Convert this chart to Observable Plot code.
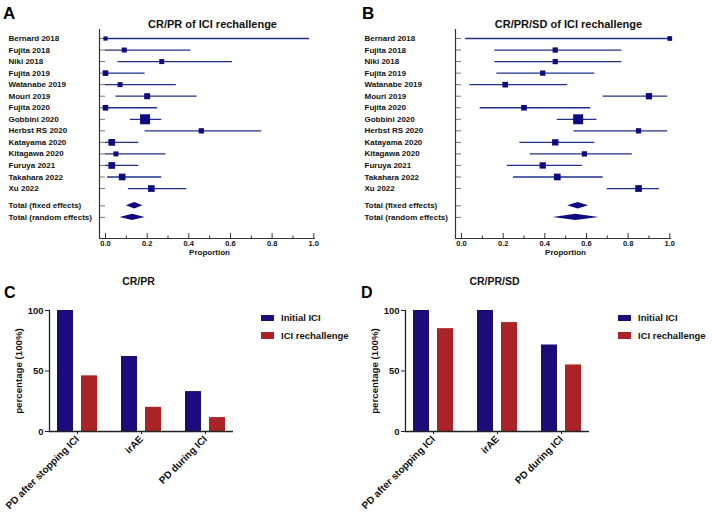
<!DOCTYPE html>
<html>
<head>
<meta charset="utf-8">
<script src="https://cdn.jsdelivr.net/npm/d3@7"></script>
<script src="https://cdn.jsdelivr.net/npm/@observablehq/plot@0.6"></script>
<style>
  body { margin: 0; background: #fff; }
  #root { position: relative; width: 712px; height: 519px; overflow: hidden; background: #fff;
          font-family: "Liberation Sans", Arial, sans-serif; color: #111; }
  .panel { position: absolute; }
  .panel svg { overflow: visible; }
  .letter { position: absolute; font-weight: bold; line-height: 1; color: #000; }
  .legend { position: absolute; font-weight: bold; font-size: 9.5px; color: #111; }
  .legend .row { display: flex; align-items: center; height: 17.5px; }
  .legend .sw { width: 13px; height: 6.5px; margin-right: 7px; }
</style>
</head>
<body>
<div id="root"></div>
<script>
// ---------------- Data ----------------
const studies = ["Bernard 2018", "Fujita 2018", "Niki 2018", "Fujita 2019", "Watanabe 2019",
  "Mouri 2019", "Fujita 2020", "Gobbini 2020", "Herbst RS 2020", "Katayama 2020",
  "Kitagawa 2020", "Furuya 2021", "Takahara 2022", "Xu 2022"];
const totals = ["Total (fixed effects)", "Total (random effects)"];

// Panel A: CR/PR of ICI rechallenge (proportion, 95% CI, relative weight)
const propA = [0.00, 0.09, 0.27, 0.00, 0.07, 0.20, 0.00, 0.19, 0.46, 0.03, 0.05, 0.03, 0.08, 0.22];
const lowA  = [0.00, 0.00, 0.06, 0.00, 0.00, 0.05, 0.00, 0.12, 0.19, 0.00, 0.00, 0.00, 0.01, 0.11];
const highA = [0.98, 0.41, 0.61, 0.19, 0.34, 0.44, 0.25, 0.27, 0.75, 0.16, 0.29, 0.16, 0.27, 0.39];
const weightA = [18, 25, 25, 32, 25, 36, 32, 100, 28, 45, 25, 45, 45, 45];
const totEstA = [0.14, 0.13];
const totLowA = [0.10, 0.07];
const totHighA = [0.18, 0.19];

// Panel B: CR/PR/SD of ICI rechallenge
const propB = [1.00, 0.45, 0.45, 0.39, 0.21, 0.90, 0.30, 0.56, 0.85, 0.45, 0.59, 0.39, 0.46, 0.85];
const lowB  = [0.02, 0.16, 0.16, 0.17, 0.04, 0.68, 0.09, 0.46, 0.54, 0.28, 0.33, 0.22, 0.25, 0.70];
const highB = [1.00, 0.77, 0.77, 0.64, 0.51, 0.99, 0.62, 0.65, 0.99, 0.64, 0.82, 0.58, 0.68, 0.95];
const weightB = [22, 28, 28, 28, 32, 40, 32, 100, 28, 40, 28, 40, 45, 45];
const totEstB = [0.56, 0.55];
const totLowB = [0.51, 0.44];
const totHighB = [0.61, 0.66];

const xMajor = [0, 0.2, 0.4, 0.6, 0.8, 1.0];
const xMinor = [0.1, 0.3, 0.5, 0.7, 0.9];

// Panels C & D: percentage (100%)
const groups = ["PD after stopping ICI", "irAE", "PD during ICI"];
const seriesNames = ["Initial ICI", "ICI rechallenge"];
const initialC = [100, 62, 33];
const rechalC  = [46, 20, 11.5];
const initialD = [100, 100, 71.5];
const rechalD  = [85, 90, 55];
const yTicks = [0, 50, 100];

// ---------------- Styles ----------------
const FONT = "Liberation Sans, Arial, sans-serif";
const NAVY = "#0e0b80";
const LINE = "#20308c";
const BLUE = "#1b0c7a";
const RED = "#a92327";

const root = document.getElementById("root");

function place(el, left, top) {
  const d = document.createElement("div");
  d.className = "panel";
  d.style.left = left + "px";
  d.style.top = top + "px";
  d.appendChild(el);
  root.appendChild(d);
}

function letter(txt, left, top, size) {
  const d = document.createElement("div");
  d.className = "letter";
  d.textContent = txt;
  d.style.left = left + "px";
  d.style.top = top + "px";
  d.style.fontSize = size + "px";
  root.appendChild(d);
}

function legend(left, top) {
  const d = document.createElement("div");
  d.className = "legend";
  d.style.left = left + "px";
  d.style.top = top + "px";
  [[seriesNames[0], BLUE], [seriesNames[1], RED]].forEach(([name, c]) => {
    const r = document.createElement("div");
    r.className = "row";
    const s = document.createElement("div");
    s.className = "sw";
    s.style.background = c;
    const t = document.createElement("span");
    t.textContent = name;
    r.appendChild(s); r.appendChild(t);
    d.appendChild(r);
  });
  root.appendChild(d);
}

function forest(title, prop, low, high, weight, tEst, tLow, tHigh) {
  const rows = studies.map((s, i) => ({name: s, idx: i, p: prop[i], lo: low[i], hi: high[i], w: weight[i]}));
  const tots = totals.map((s, i) => ({name: s, idx: studies.length + 0.5 + i, p: tEst[i], lo: tLow[i], hi: tHigh[i]}));
  const labels = rows.concat(tots);
  const half = 0.28;
  const diamond = tots.flatMap(t => [
    {name: t.name, x: t.lo, y1: t.idx, y2: t.idx},
    {name: t.name, x: t.p, y1: t.idx - half, y2: t.idx + half},
    {name: t.name, x: t.hi, y1: t.idx, y2: t.idx}
  ]);
  const xDom = [-0.0288, 1.0082];
  const yDom = [-0.78, 17.33];
  return Plot.plot({
    width: 356, height: 260,
    marginLeft: 99, marginRight: 41, marginTop: 29, marginBottom: 22,
    style: {fontFamily: FONT, background: "transparent", color: "#111"},
    x: {domain: xDom},
    y: {domain: yDom, reverse: true, axis: null},
    r: {type: "sqrt", domain: [0, 100], range: [0, 5.64]},
    marks: [
      Plot.ruleY(labels, {y: "idx", x1: xDom[0], x2: 0, stroke: "#777", strokeWidth: 1}),
      Plot.ruleY(rows, {y: "idx", x1: "lo", x2: "hi", stroke: LINE, strokeWidth: 1.3}),
      Plot.dot(rows, {x: "p", y: "idx", r: "w", symbol: "square", fill: NAVY}),
      Plot.areaY(diamond, {x: "x", y1: "y1", y2: "y2", z: "name", fill: NAVY}),
      Plot.ruleX([xDom[0]], {stroke: "#333", strokeWidth: 1.2}),
      Plot.ruleY([yDom[1]], {stroke: "#333", strokeWidth: 1.2}),
      Plot.tickX(xMajor, {x: d => d, insetTop: 204, stroke: "#333"}),
      Plot.tickX(xMinor, {x: d => d, insetTop: 206.5, stroke: "#333"}),
      Plot.axisX({ticks: xMajor, tickFormat: d3.format(".1f"), tickSize: 0, tickPadding: 2,
                  fontSize: 7.5, fontWeight: "bold", label: null}),
      Plot.text(labels, {y: "idx", text: "name", frameAnchor: "left", textAnchor: "start", dx: -91,
                         fontSize: 8, fontWeight: "bold", fill: "#111"}),
      Plot.text(["Proportion"], {text: d => d, frameAnchor: "bottom", dy: 16, dx: 2,
                                 fontSize: 8, fontWeight: "bold", fill: "#111"}),
      Plot.text([title], {text: d => d, frameAnchor: "top", dy: -9, dx: 5,
                          fontSize: 11, fontWeight: "bold", fill: "#111"})
    ]
  });
}

function bars(title, initial, rechal) {
  const data = groups.flatMap((g, i) => [
    {group: g, series: seriesNames[0], value: initial[i]},
    {group: g, series: seriesNames[1], value: rechal[i]}
  ]);
  return Plot.plot({
    width: 356, height: 259,
    marginLeft: 49, marginRight: 123, marginTop: 50, marginBottom: 88,
    style: {fontFamily: FONT, background: "transparent", color: "#111"},
    x: {type: "band", domain: groups, paddingInner: 0.375, paddingOuter: 0.12},
    y: {domain: [0, 100]},
    color: {domain: seriesNames, range: [BLUE, RED]},
    marks: [
      Plot.barY(data.filter(d => d.series === seriesNames[0]),
        {x: "group", y: "value", fill: "series", insetRight: 24}),
      Plot.barY(data.filter(d => d.series === seriesNames[1]),
        {x: "group", y: "value", fill: "series", insetLeft: 24}),
      Plot.frame({anchor: "left", stroke: "#222", strokeWidth: 1.3}),
      Plot.ruleY([0], {stroke: "#222", strokeWidth: 1.3}),
      Plot.axisY({ticks: yTicks, tickSize: 4, tickPadding: 2, fontSize: 9.5, fontWeight: "bold",
                  label: null, stroke: "#222"}),
      Plot.axisX({tickRotate: -45, tickSize: 3, tickPadding: 3, fontSize: 10, fontWeight: "bold",
                  label: null, stroke: "#222"}),
      Plot.text(["percentage (100%)"], {text: d => d, frameAnchor: "left", textAnchor: "middle",
                  rotate: -90, dx: -31, fontSize: 9.7, fontWeight: "bold", fill: "#111"}),
      Plot.text([title], {text: d => d, frameAnchor: "top", dy: -33, dx: -3,
                  fontSize: 10.5, fontWeight: "bold", fill: "#111"})
    ]
  });
}

place(forest("CR/PR of ICI rechallenge", propA, lowA, highA, weightA, totEstA, totLowA, totHighA), 0, 0);
place(forest("CR/PR/SD of ICI rechallenge", propB, lowB, highB, weightB, totEstB, totLowB, totHighB), 356, 0);
place(bars("CR/PR", initialC, rechalC), 0, 260);
place(bars("CR/PR/SD", initialD, rechalD), 356, 260);

letter("A", 3, 5, 17);
letter("B", 362, 5, 17);
letter("C", 4, 285, 16);
letter("D", 361, 285, 16);
legend(261, 309);
legend(618, 309);
</script>
</body>
</html>
